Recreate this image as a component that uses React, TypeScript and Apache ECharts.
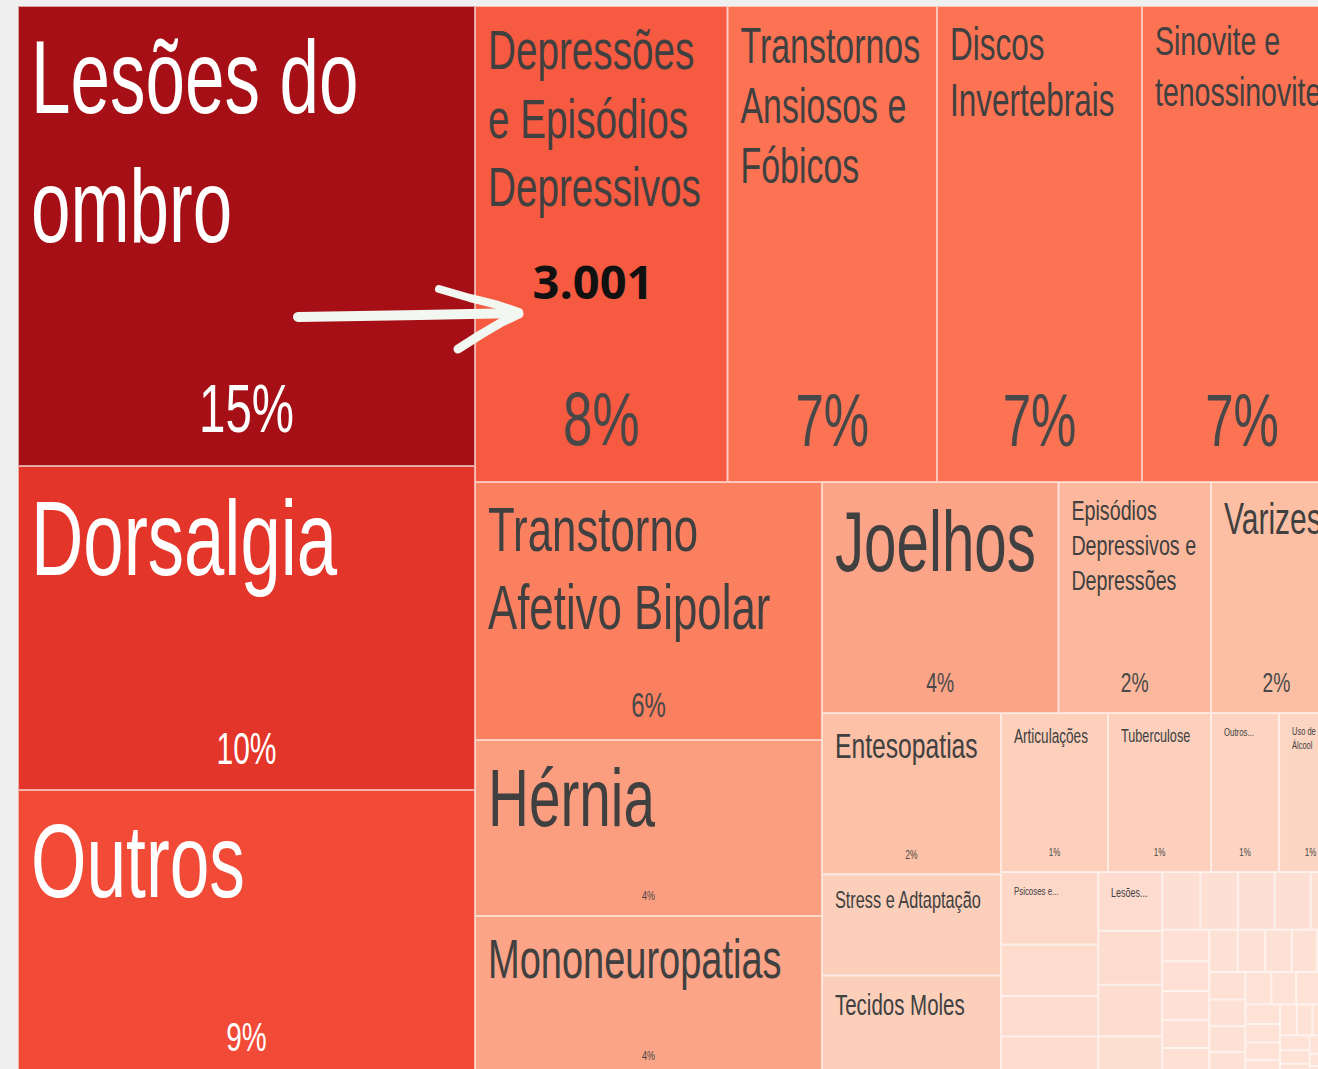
import React, { useEffect, useRef } from 'react';
import * as echarts from 'echarts';

// ---- data ----
const categories = [
  'Lesões do ombro',
  'Dorsalgia',
  'Outros',
  'Depressões e Episódios Depressivos',
  'Transtornos Ansiosos e Fóbicos',
  'Discos Invertebrais',
  'Sinovite e tenossinovite',
  'Transtorno Afetivo Bipolar',
  'Hérnia',
  'Mononeuropatias',
  'Joelhos',
  'Episódios Depressivos e Depressões',
  'Varizes',
  'Entesopatias',
  'Stress e Adtaptação',
  'Tecidos Moles',
  'Articulações',
  'Tuberculose',
  'Outros...',
  'Uso de Álcool',
  'Psicoses e...',
  'Lesões...',
];
const values = [
  5249, 3697, 3263, 3001, 2490, 2436, 2377, 2235, 1525, 1386, 1364, 880, 756, 720, 453, 449, 425, 409, 270, 250, 176, 94,
];
// unlabelled small categories (bottom-right corner)
const otherValues = [
  125, 98, 96, 86, 83, 63, 55, 54, 53, 52, 45, 37, 35, 34, 33, 33, 30, 29, 28, 27, 26, 25, 24, 23, 22, 21, 20, 19, 18,
  17, 16, 15, 14, 13, 12, 12, 11, 11, 10, 9, 8, 7, 6, 5, 4, 3,
];
const annotatedCategory = 'Depressões e Episódios Depressivos';

// ---- label styles (separate from the data) ----
const nameFontSizes = [71, 72.5, 71.3, 38.7, 33.9, 31.5, 28.5, 43.8, 56.7, 38, 58.3, 19.7, 30, 24.7, 16.3, 20.5, 13.6, 12.7, 7.8, 7.5, 7.9, 9];
// words per label line, as wrapped in the reference
const wordsPerLine = [
  [2, 1], [1], [1], [1, 2, 1], [1, 2, 1], [1, 1], [2, 1], [1, 2], [1], [1], [1], [1, 2, 1], [1], [1], [3], [2], [1], [1], [1],
  [2, 1], [2], [1],
];
const pctFontSizes = [47.5, 30, 28, 53, 51, 51, 51, 24, 9, 9, 19.3, 19.3, 19.3, 8.5, 0, 0, 8, 8, 8, 8, 0, 0];
const colorStops: [number, string][] = [
  [0, '#fee3d7'],
  [100, '#fddccf'],
  [260, '#fdd4c2'],
  [450, '#fccfba'],
  [720, '#fcc1a6'],
  [880, '#fcb89d'],
  [1400, '#fba386'],
  [2235, '#fb8060'],
  [2350, '#fc7353'],
  [2500, '#fc7353'],
  [3001, '#f65a40'],
  [3263, '#f14a36'],
  [3697, '#e4352a'],
  [5249, '#a50f15'],
];
const FONT = '"Liberation Sans", Arial, sans-serif';
const STRETCH = 1.45; // vertical stretch that gives the labels the tall, condensed look of the reference font
const CLEAR = 'rgba(0,0,0,0)';

function hexToRgb(h: string) {
  const n = parseInt(h.slice(1), 16);
  return [(n >> 16) & 255, (n >> 8) & 255, n & 255];
}
function rgbToHex(c: number[]) {
  return '#' + c.map((x) => Math.round(x).toString(16).padStart(2, '0')).join('');
}
function mix(a: string, b: string, t: number) {
  const ca = hexToRgb(a);
  const cb = hexToRgb(b);
  return rgbToHex(ca.map((x, i) => x + (cb[i] - x) * t));
}
function colorFor(v: number) {
  if (v <= colorStops[0][0]) return colorStops[0][1];
  for (let i = 1; i < colorStops.length; i++) {
    const [v1, c1] = colorStops[i];
    const [v0, c0] = colorStops[i - 1];
    if (v <= v1) return mix(c0, c1, (v - v0) / (v1 - v0));
  }
  return colorStops[colorStops.length - 1][1];
}
function luminance(c: string) {
  const [r, g, b] = hexToRgb(c);
  return 0.299 * r + 0.587 * g + 0.114 * b;
}
function fmtThousands(v: number) {
  return String(v).replace(/\B(?=(\d{3})+(?!\d))/g, '.');
}
function wrapName(name: string, counts: number[]) {
  const words = name.split(' ');
  const lines: string[] = [];
  let k = 0;
  counts.forEach((c) => {
    lines.push(words.slice(k, k + c).join(' '));
    k += c;
  });
  if (k < words.length) lines.push(words.slice(k).join(' '));
  return lines.join('\n');
}

export default function App() {
  const ref = useRef<HTMLDivElement>(null);
  useEffect(() => {
    if (!ref.current) return;
    const chart = echarts.init(ref.current, null, { renderer: 'svg' });
    const total = values.concat(otherValues).reduce((a, b) => a + b, 0);
    const annotatedValue = values[categories.indexOf(annotatedCategory)];
    const annotationText = fmtThousands(annotatedValue);

    const box = { left: 18, top: 6, width: 1324, height: 1070 };
    const common = {
      type: 'treemap',
      ...box,
      roam: false,
      nodeClick: false,
      squareRatio: 1.633,
      sort: 'desc',
      visibleMin: 1,
      breadcrumb: { show: false },
      emphasis: { disabled: true },
      silent: true,
    };

    const nameData = categories
      .map((name, i) => {
        const c = colorFor(values[i]);
        const fs = nameFontSizes[i];
        const txt = luminance(c) < 128 ? '#ffffff' : '#404040';
        return {
          name,
          value: values[i],
          itemStyle: { color: c, borderColor: mix(c, '#ffffff', 0.6), borderWidth: 1 },
          label: {
            show: true,
            formatter: wrapName(name, wordsPerLine[i]),
            fontSize: fs,
            lineHeight: fs * (fs > 65 ? 1.83 : 1.77),
            padding: [12 - 0.0976 * fs, 4, 0, 12],
            color: txt,
          },
        };
      })
      .concat(
        otherValues.map((v, i) => {
          const c = colorFor(v);
          return {
            name: 'outra ' + (i + 1),
            value: v,
            itemStyle: { color: c, borderColor: mix(c, '#ffffff', 0.6), borderWidth: 1 },
            label: { show: false } as any,
          };
        })
      );

    const pctData = categories
      .map((name, i) => {
        const c = colorFor(values[i]);
        const ps = pctFontSizes[i];
        const txt = luminance(c) < 128 ? '#ffffff' : '#484848';
        return {
          name,
          value: values[i],
          itemStyle: { color: CLEAR, borderColor: CLEAR, borderWidth: 1 },
          label:
            ps > 0
              ? { show: true, fontSize: ps, lineHeight: ps, distance: 0.476 * ps + 11, color: txt }
              : { show: false },
        };
      })
      .concat(
        otherValues.map((v, i) => ({
          name: 'outra ' + (i + 1),
          value: v,
          itemStyle: { color: CLEAR, borderColor: CLEAR, borderWidth: 1 },
          label: { show: false } as any,
        }))
      );

    const arrowStyle = { stroke: '#f3f7f1', lineCap: 'round', lineJoin: 'round', fill: null };

    chart.setOption({
      animation: false,
      backgroundColor: '#efefef',
      series: [
        {
          ...common,
          z: 1,
          itemStyle: { borderWidth: 0, gapWidth: 0, borderColor: '#efefef' },
          levels: [{ itemStyle: { borderWidth: 0, gapWidth: 0, borderColor: '#efefef' } }],
          label: {
            show: true,
            position: 'insideTopLeft',
            distance: 0,
            overflow: 'none',
            fontFamily: FONT,
            fontWeight: 'normal',
          },
          data: nameData,
        },
        {
          ...common,
          z: 2,
          itemStyle: { borderWidth: 0, gapWidth: 0, borderColor: CLEAR, color: CLEAR },
          levels: [{ itemStyle: { borderWidth: 0, gapWidth: 0, borderColor: CLEAR, color: CLEAR } }],
          label: {
            show: true,
            position: 'insideBottom',
            padding: 0,
            overflow: 'none',
            fontFamily: FONT,
            fontWeight: 'normal',
            formatter: (p: any) => Math.round((p.value / total) * 100) + '%',
          },
          data: pctData,
        },
      ],
      graphic: [
        {
          type: 'polyline',
          z: 100,
          shape: { points: [[298, 317], [360, 316], [420, 315], [470, 314], [518, 313]] },
          style: { ...arrowStyle, lineWidth: 10 },
        },
        {
          type: 'polyline',
          z: 100,
          shape: { points: [[439, 289], [470, 298], [498, 305], [519, 312]] },
          style: { ...arrowStyle, lineWidth: 8 },
        },
        {
          type: 'polyline',
          z: 100,
          shape: { points: [[458, 349], [480, 335], [502, 322], [519, 314]] },
          style: { ...arrowStyle, lineWidth: 9 },
        },
        {
          type: 'text',
          z: 100,
          x: 593,
          y: 281,
          style: {
            text: annotationText,
            fontSize: 47,
            fontWeight: 'bold',
            fontFamily: '"Open Sans", "Noto Sans", sans-serif',
            fill: '#111111',
            align: 'center',
            verticalAlign: 'middle',
          },
        },
      ],
    });

    const stretchLabels = () => {
      const svg = ref.current && ref.current.querySelector('svg');
      if (!svg) return;
      svg.querySelectorAll('text').forEach((t) => {
        if (t.getAttribute('data-stretched')) return;
        if ((t.textContent || '').trim() === annotationText) return;
        const x = parseFloat(t.getAttribute('x') || '0') || 0;
        const y = parseFloat(t.getAttribute('y') || '0') || 0;
        const tr = t.getAttribute('transform') || '';
        t.setAttribute(
          'transform',
          `${tr} translate(${x} ${y}) scale(1 ${STRETCH}) translate(${-x} ${-y})`.trim()
        );
        t.setAttribute('data-stretched', '1');
      });
    };
    chart.on('finished', stretchLabels);
    const timer = setTimeout(stretchLabels, 50);
    return () => {
      clearTimeout(timer);
      chart.dispose();
    };
  }, []);

  return (
    <div
      style={{
        position: 'fixed',
        left: 0,
        top: 0,
        width: 1318,
        height: 1069,
        overflow: 'hidden',
        background: '#efefef',
      }}
    >
      <div ref={ref} style={{ width: 1318, height: 1069 }} />
    </div>
  );
}
